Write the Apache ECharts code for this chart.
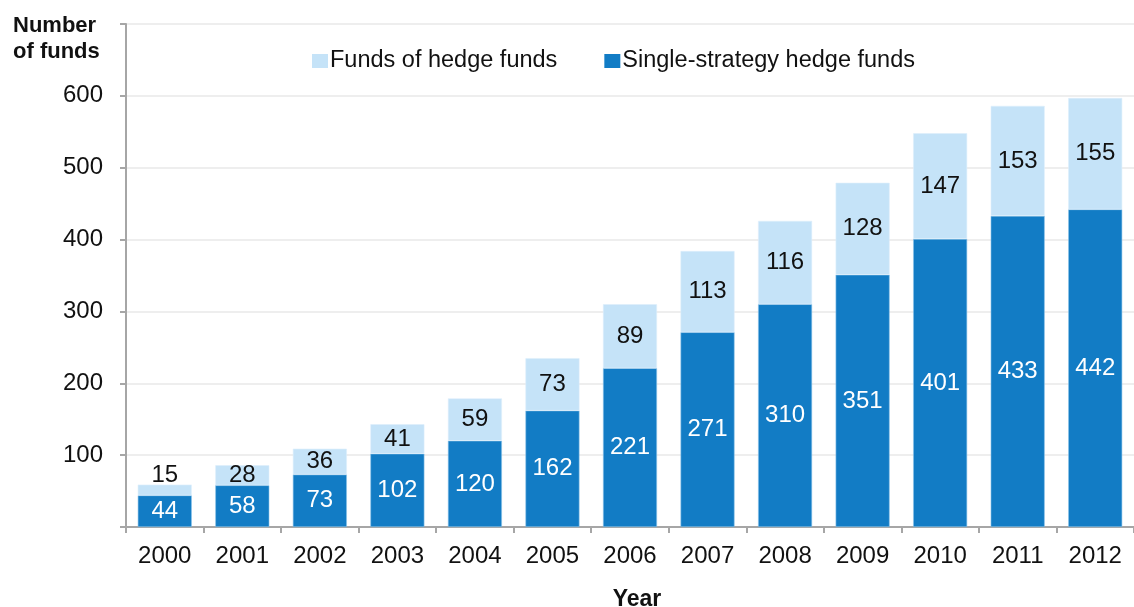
<!DOCTYPE html>
<html>
<head>
<meta charset="utf-8">
<script src="https://cdn.jsdelivr.net/npm/echarts@6/dist/echarts.min.js"></script>
<style>
  html, body { margin: 0; padding: 0; background: #ffffff; }
  #chart { width: 1134px; height: 607px; }
</style>
</head>
<body>
<div id="chart"></div>
<script>
// Number of hedge funds by year, split by type
const years = ['2000', '2001', '2002', '2003', '2004', '2005', '2006',
               '2007', '2008', '2009', '2010', '2011', '2012'];
const singleStrategy = [44, 58, 73, 102, 120, 162, 221, 271, 310, 351, 401, 433, 442];
const fundsOfFunds = [15, 28, 36, 41, 59, 73, 89, 113, 116, 128, 147, 153, 155];
const yTicks = [100, 200, 300, 400, 500, 600];

const FONT = '"Liberation Sans", Arial, sans-serif';
const DARK = '#127CC5';
const LIGHT = '#C5E3F8';
const AXIS = '#A6A6A6';
const FS = 24;

// segments too thin to hold their label get it just above the bar
const fofData = fundsOfFunds.map(v => (v < 20
  ? { value: v, label: { position: 'top', distance: -3 } }
  : v));

const chart = echarts.init(document.getElementById('chart'));

chart.setOption({
  animation: false,
  backgroundColor: '#ffffff',
  textStyle: { fontFamily: FONT },
  title: [
    {
      text: 'Number\nof funds',
      left: 8, top: 8,
      textStyle: { fontFamily: FONT, fontSize: 22, fontWeight: 'bold', color: '#111', lineHeight: 26 }
    },
    {
      text: 'Year',
      left: 632, top: 583, textAlign: 'center',
      textStyle: { fontFamily: FONT, fontSize: 23, fontWeight: 'bold', color: '#111' }
    }
  ],
  legend: {
    data: ['Funds of hedge funds', 'Single-strategy hedge funds'],
    left: 307, top: 44,
    itemWidth: 16, itemHeight: 14,
    itemGap: 47,
    icon: 'rect',
    itemStyle: { borderWidth: 0 },
    textStyle: { fontFamily: FONT, fontSize: 23.5, color: '#111', padding: [0, 0, 0, -3] }
  },
  grid: { left: 126, right: -3, top: 24, bottom: 80 },
  xAxis: {
    type: 'category',
    data: years,
    axisLine: { lineStyle: { color: AXIS, width: 2 } },
    axisTick: { show: true, length: 6, alignWithLabel: false, lineStyle: { color: AXIS, width: 2 } },
    axisLabel: { fontFamily: FONT, fontSize: FS, color: '#111', margin: 17 }
  },
  yAxis: {
    type: 'value',
    min: 0, max: 700, interval: 100,
    axisLine: { show: true, lineStyle: { color: AXIS, width: 2 } },
    axisTick: { show: true, length: 6, lineStyle: { color: AXIS, width: 2 } },
    splitLine: { show: true, lineStyle: { color: '#E8E8E8', width: 1.5 } },
    axisLabel: {
      fontFamily: FONT, fontSize: FS, color: '#111', margin: 23,
      formatter: v => (yTicks.indexOf(v) >= 0 ? String(v) : '')
    }
  },
  series: [
    {
      name: 'Single-strategy hedge funds',
      type: 'bar',
      stack: 'total',
      data: singleStrategy,
      barWidth: 54,
      itemStyle: { color: DARK, borderColor: '#8CC2EA', borderWidth: 0.6 },
      label: {
        show: true, position: 'inside',
        fontFamily: FONT, fontSize: FS, color: '#ffffff'
      }
    },
    {
      name: 'Funds of hedge funds',
      type: 'bar',
      stack: 'total',
      data: fofData,
      barWidth: 54,
      itemStyle: { color: LIGHT, borderColor: '#DDEFFB', borderWidth: 0.6 },
      label: {
        show: true, position: 'inside',
        fontFamily: FONT, fontSize: FS, color: '#111'
      }
    }
  ]
});
</script>
</body>
</html>
